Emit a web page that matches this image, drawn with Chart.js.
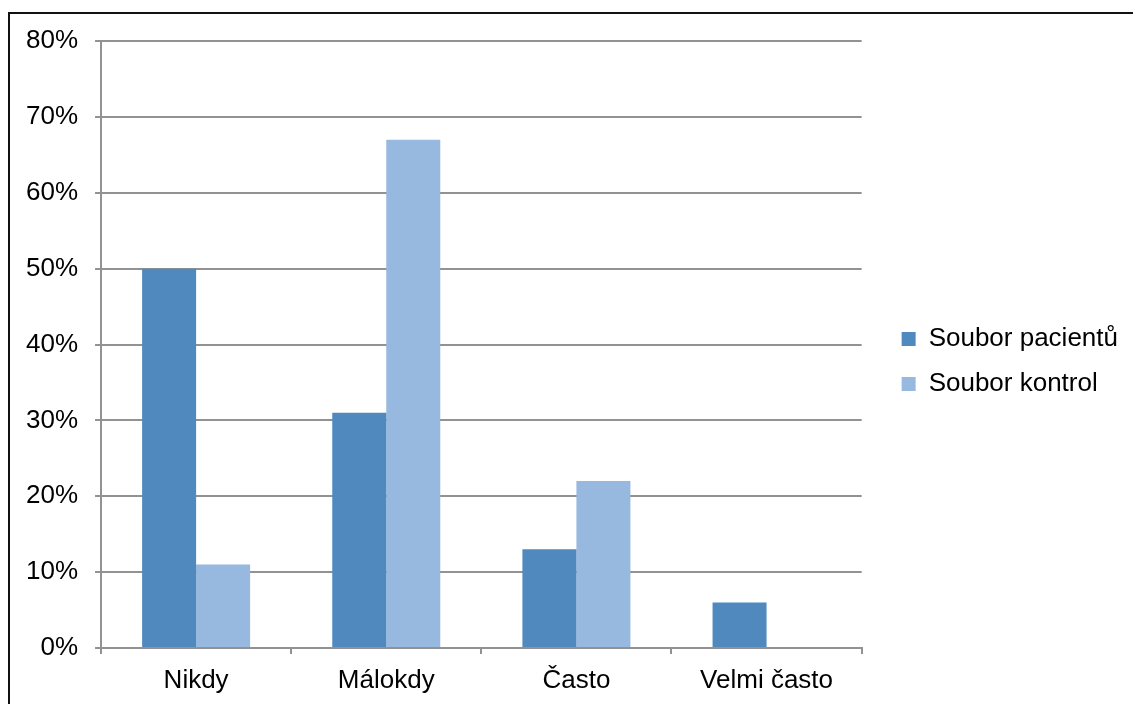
<!DOCTYPE html>
<html lang="cs">
<head>
<meta charset="utf-8">
<title>Soubor pacientů / Soubor kontrol</title>
<script src="https://cdn.jsdelivr.net/npm/chart.js@4.4.1/dist/chart.umd.min.js"></script>
<style>
  html, body { margin: 0; padding: 0; background: #fff; overflow: hidden; }
  #wrap { position: relative; width: 1133px; height: 704px; }
  /* frame line along the top and left edge */
  #frame { position: absolute; left: 8px; top: 12px; width: 1200px; height: 800px;
           border-top: 2px solid #111; border-left: 2px solid #111; pointer-events: none; }
  canvas { position: absolute; left: 0; top: 0; }
</style>
</head>
<body>
<div id="wrap">
  <canvas id="chart" width="1133" height="704"></canvas>
  <div id="frame"></div>
</div>
<script>
// categories and series (percent)
const categories = ['Nikdy', 'Málokdy', 'Často', 'Velmi často'];
const pacienti = [50, 31, 13, 6];
const kontroly = [11, 67, 22, 0];
const yTicks = [0, 10, 20, 30, 40, 50, 60, 70, 80];

const FONT = "'Liberation Sans', Arial, sans-serif";
const GRID = '#929292';
const LEGEND_GAP = 21;   // extra space between plot and legend
const LEGEND_LIFT = 11;  // legend sits a bit above the vertical middle

// widen the legend box and push its content right, leaving a gap to the plot
const legendGap = {
  id: 'legendGap',
  beforeInit(chart) {
    const lg = chart.legend;
    if (!lg) return;
    const fit = lg.fit.bind(lg);
    lg.fit = function () { fit(); this.width += LEGEND_GAP; };
  },
  afterLayout(chart) {
    const lg = chart.legend;
    if (!lg) return;
    lg.left += LEGEND_GAP;
    lg.top -= LEGEND_LIFT;
    lg.bottom -= LEGEND_LIFT;
  }
};

new Chart(document.getElementById('chart'), {
  type: 'bar',
  data: {
    labels: categories,
    datasets: [
      { label: 'Soubor pacientů', data: pacienti, backgroundColor: '#4F89BD', borderWidth: 0 },
      { label: 'Soubor kontrol', data: kontroly, backgroundColor: '#97B8DF', borderWidth: 0 }
    ]
  },
  plugins: [legendGap],
  options: {
    responsive: false,
    animation: false,
    devicePixelRatio: 1,
    layout: { padding: { left: 9, right: 5, top: 41, bottom: 0 } },
    datasets: { bar: { categoryPercentage: 0.568, barPercentage: 1.0 } },
    plugins: {
      tooltip: { enabled: false },
      legend: {
        position: 'right',
        align: 'center',
        labels: {
          font: { family: FONT, size: 26 },
          color: '#000',
          boxWidth: 14,
          boxHeight: 14,
          padding: 19,
          useBorderRadius: false
        }
      }
    },
    scales: {
      x: {
        grid: { offset: true, drawOnChartArea: false, drawTicks: true, tickLength: 6, color: GRID, lineWidth: 2 },
        border: { display: true, color: GRID, width: 2 },
        ticks: { font: { family: FONT, size: 26 }, color: '#000', padding: 11 },
        afterFit: s => { s.height = 56; }
      },
      y: {
        min: 0,
        max: 80,
        afterBuildTicks: axis => { axis.ticks = yTicks.map(v => ({ value: v })); },
        grid: { color: GRID, lineWidth: 2, drawTicks: true, tickLength: 6 },
        border: { display: true, color: GRID, width: 2 },
        ticks: {
          font: { family: FONT, size: 26 },
          color: '#000',
          padding: 17,
          callback: v => v + '%'
        }
      }
    }
  }
});
</script>
</body>
</html>
